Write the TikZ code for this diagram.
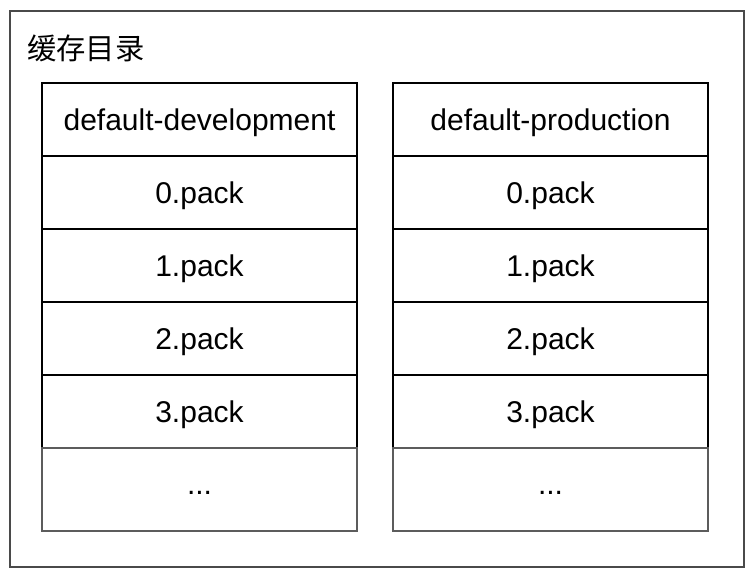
\documentclass[tikz,border=0pt]{standalone}
\usepackage{fontspec}
\setmainfont{Liberation Sans}
\newfontfamily\cjkfont{Noto Sans CJK SC}
\usepackage{xcolor}
\usetikzlibrary{positioning}
\definecolor{framegray}{HTML}{4A4A4A}
\definecolor{restgray}{HTML}{5C5C5C}
\tikzset{
  cachecell/.style={draw=black, line width=1.5pt, outer sep=0pt, inner sep=0pt, minimum width=236.25pt, minimum height=54.75pt, text height=16.2pt, text depth=0pt, font=\fontsize{22.5}{27}\selectfont},
  restcell/.style={cachecell, draw=restgray, line width=1.1pt, minimum height=62.25pt, text depth=9.45pt},
  cacheframe/.style={draw=framegray, line width=1.5pt},
  titletext/.style={anchor=west, inner sep=0pt, font=\cjkfont\fontsize{22}{26}\selectfont}
}

\begin{document}
\begin{tikzpicture}[x=0.75pt, y=-0.75pt]
  \useasboundingbox (0,0) rectangle (755,576);
  \draw[cacheframe] (9.5,10.5) rectangle (744,566.5);
  \node[titletext] (cachetitle) at (27,48) {缓存目录};
  % development column
  \node[cachecell] (devhead) at (199.5,119.5) {default-development};
  \foreach \i/\prev in {0/devhead,1/dev0,2/dev1,3/dev2}{
    \node[cachecell, below=0pt of \prev] (dev\i) {\i.pack};
  }
  \node[restcell, below=0pt of dev3] (devrest) {...};
  % production column
  \node[cachecell] (prodhead) at (550.5,119.5) {default-production};
  \foreach \i/\prev in {0/prodhead,1/prod0,2/prod1,3/prod2}{
    \node[cachecell, below=0pt of \prev] (prod\i) {\i.pack};
  }
  \node[restcell, below=0pt of prod3] (prodrest) {...};
\end{tikzpicture}
\end{document}
